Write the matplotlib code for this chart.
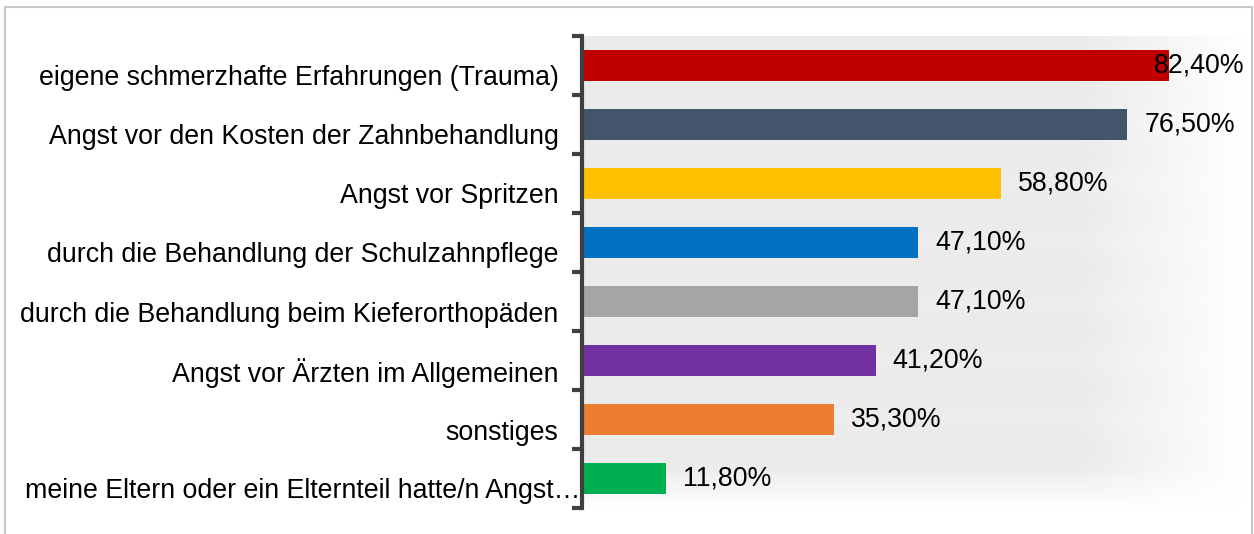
import numpy as np
import matplotlib
matplotlib.use('Agg')
import matplotlib.pyplot as plt
import matplotlib.transforms as mtransforms
from matplotlib.patches import Rectangle

# Data
categories = [
    'eigene schmerzhafte Erfahrungen (Trauma)',
    'Angst vor den Kosten der Zahnbehandlung',
    'Angst vor Spritzen',
    'durch die Behandlung der Schulzahnpflege',
    'durch die Behandlung beim Kieferorthopäden',
    'Angst vor Ärzten im Allgemeinen',
    'sonstiges',
    'meine Eltern oder ein Elternteil hatte/n Angst…',
]
values = [0.824, 0.765, 0.588, 0.471, 0.471, 0.412, 0.353, 0.118]
colors = ['#C00000', '#44546A', '#FFC000', '#0070C0',
          '#A5A5A5', '#7030A0', '#ED7D31', '#00B050']

plt.rcParams['font.family'] = ['Liberation Sans', 'DejaVu Sans']
FS = 19.3

W, H = 1254, 534
fig = plt.figure(figsize=(W / 100, H / 100), dpi=100)

# outer frame (bottom edge lies outside the picture)
fig.patches.append(Rectangle((5 / W, -0.05), (1252 - 5) / W, 1.05 - 7 / H,
                             transform=fig.transFigure, fill=False,
                             edgecolor='#c8c8c8', linewidth=1.5))

ax = fig.add_axes([582 / W, 1 - 508 / H, (1245 - 582) / W, (508 - 36) / H])
XMAX = 0.93
n = len(categories)
y = np.arange(n)

# soft grey shadow behind the plot area
nx, ny = 300, 400
gx = np.linspace(0, 1, nx)
gy = np.linspace(0, 1, ny)
fade_x = np.clip((1 - gx) / 0.25, 0, 1)
fade_y = np.clip((1 - gy) / 0.08, 0, 1)
band = 0.5 + 0.5 * np.abs(np.cos(np.pi * gy * n))
shade = np.outer(fade_y * (0.7 + 0.3 * band), fade_x)
img = 1 - 0.08 * shade
ax.imshow(np.dstack([img, img, img]), extent=(0, XMAX, n - 0.5, -0.5),
          aspect='auto', zorder=0, interpolation='bilinear')

ax.barh(y, values, height=0.51, color=colors, zorder=2)

for yi, v in zip(y, values):
    txt = f"{v * 100:.2f}".replace('.', ',') + '%'
    x = v + 0.024
    if x + 0.125 > XMAX:
        ax.text(XMAX - 0.001, yi, txt, ha='right', va='center', fontsize=FS, zorder=3)
    else:
        ax.text(x, yi, txt, ha='left', va='center', fontsize=FS, zorder=3)

ax.set_xlim(0, XMAX)
ax.set_ylim(n - 0.5, -0.5)
ax.set_yticks(y)
ax.set_yticklabels(categories, fontsize=FS)
ax.set_yticks(np.arange(n + 1) - 0.5, minor=True)
ax.tick_params(axis='y', which='major', length=0, pad=17)
ax.tick_params(axis='y', which='minor', length=7, width=3, color='#404040', direction='out')
ax.set_xticks([])
for s in ['top', 'right', 'bottom']:
    ax.spines[s].set_visible(False)
ax.spines['left'].set_linewidth(3)
ax.spines['left'].set_color('#404040')
ax.spines['left'].set_zorder(4)

# category labels sit a little below the bar centres;
# the truncated one runs into the axis like in the original
for lbl in ax.get_yticklabels():
    dx = 0.22 if lbl.get_text().endswith('…') else 0
    shift = mtransforms.ScaledTranslation(dx, -0.1, fig.dpi_scale_trans)
    lbl.set_transform(lbl.get_transform() + shift)

fig.savefig('out.png', dpi=100)
